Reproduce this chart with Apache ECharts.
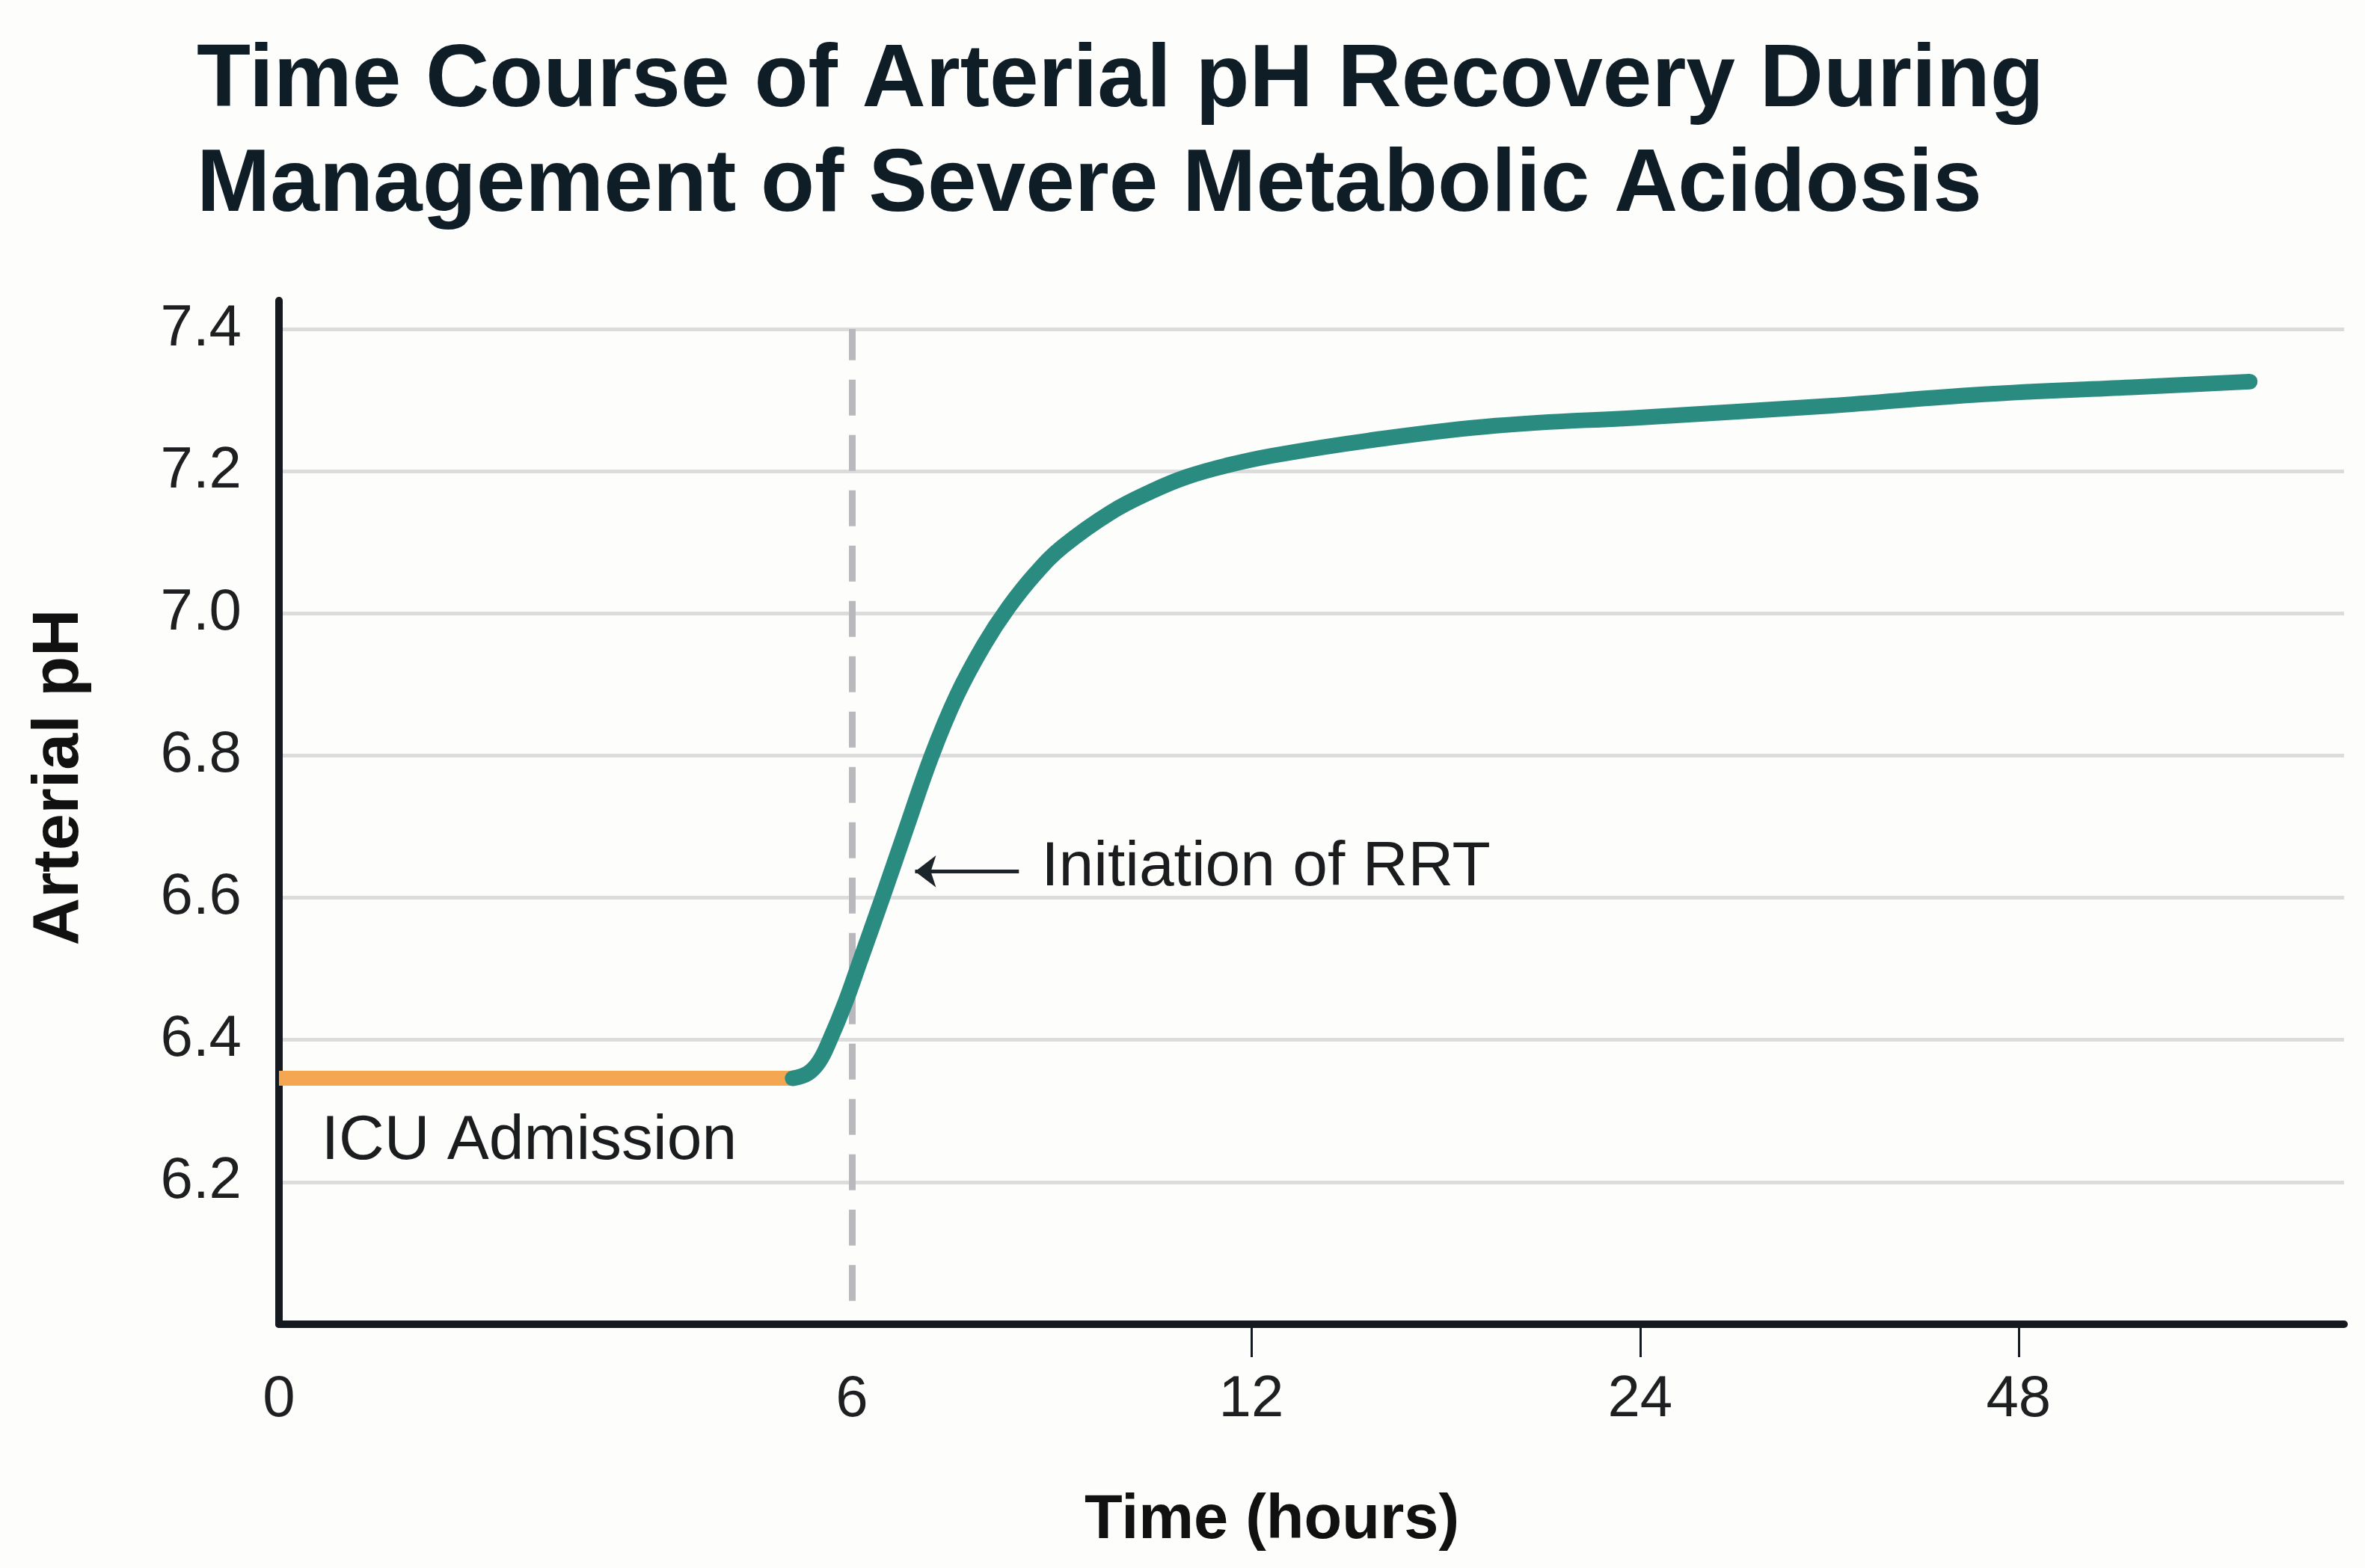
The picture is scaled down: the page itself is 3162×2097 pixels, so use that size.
<!DOCTYPE html>
<html>
<head>
<meta charset="utf-8">
<script src="https://cdn.jsdelivr.net/npm/echarts@6/dist/echarts.min.js"></script>
<style>
  html, body { margin: 0; padding: 0; background: #fdfdfc; }
  #chart { width: 3162px; height: 2097px; }
</style>
</head>
<body>
<div id="chart"></div>
<script>
// ---------------- data ----------------
const TITLE_TEXT = 'Time Course of Arterial pH Recovery During\nManagement of Severe Metabolic Acidosis';
const X_NAME = 'Time (hours)';
const Y_NAME = 'Arterial pH';

// time axis tick values (hours) and their labels
const TIME_TICK_HOURS = [0, 6, 12, 24, 48];
const TIME_TICK_LABELS = ['0', '6', '12', '24', '48'];
// hours that carry a small tick mark below the axis
const TIME_TICK_MARKED = [12, 24, 48];
// segmented (non-linear) time scale: axis unit at which each tick hour sits
const TIME_SCALE_UNITS = [0, 1.473, 2.5, 3.5, 4.473];

// pre-treatment (ICU admission) segment
const ADMISSION_HOURS = [0, 5.38];
const ADMISSION_PH = [6.346, 6.346];

// recovery after renal replacement therapy
const RRT_HOURS = [5.38, 5.54, 5.66, 5.77, 5.93, 6.12, 6.46, 6.82, 7.20, 7.58, 7.98, 8.35, 8.76,
                   9.17, 9.89, 10.51, 11.03, 11.63, 12.67, 15.60, 19.55, 24.33, 36.0, 45.63, 55.16, 62.66];
const RRT_PH = [6.346, 6.353, 6.370, 6.400, 6.452, 6.510, 6.600, 6.698, 6.800, 6.885, 6.955, 7.008, 7.056,
                7.094, 7.142, 7.172, 7.192, 7.208, 7.222, 7.243, 7.264, 7.276, 7.292, 7.308, 7.318, 7.326];

// RRT start marker (dashed line)
const RRT_START_HOUR = 6;
const RRT_LINE_PH = [6.033, 7.40];

// annotations
const ANNOT_TEXTS = ['ICU Admission', 'Initiation of RRT'];
const ANNOT_HOURS = [0.44, 8.84];
const ANNOT_PH = [6.257, 6.642];
// arrow pointing at curve
const ARROW_HOURS = [6.95, 8.51]; // tip, tail
const ARROW_PH = 6.637;

// ---------------- scale helper ----------------
function toAxis(h) {
  const T = TIME_TICK_HOURS, U = TIME_SCALE_UNITS;
  let i = 0;
  while (i < T.length - 2 && h > T[i + 1]) i++;
  return U[i] + (h - T[i]) * (U[i + 1] - U[i]) / (T[i + 1] - T[i]);
}
function labelFor(v) {
  for (let i = 0; i < TIME_SCALE_UNITS.length; i++) {
    if (Math.abs(TIME_SCALE_UNITS[i] - v) < 1e-6) return TIME_TICK_LABELS[i];
  }
  return '';
}

const FONT = '"Liberation Sans", Arial, Helvetica, sans-serif';
const AXIS_COLOR = '#141a1f';
const TEXT_COLOR = '#1d1f21';

const admissionData = ADMISSION_HOURS.map((h, i) => [toAxis(h), ADMISSION_PH[i]]);
const rrtData = RRT_HOURS.map((h, i) => [toAxis(h), RRT_PH[i]]);

const chart = echarts.init(document.getElementById('chart'), null, { renderer: 'canvas' });

const option = {
  backgroundColor: '#fdfdfc',
  animation: false,
  title: {
    text: TITLE_TEXT,
    left: 258,
    top: 34,
    textStyle: {
      fontFamily: FONT,
      fontSize: 118,
      fontWeight: 'bold',
      color: '#0f1d26',
      lineHeight: 140
    }
  },
  grid: {
    left: 373,
    right: 28,
    top: 402,
    bottom: 326,
    outerBoundsMode: 'none'
  },
  xAxis: {
    type: 'value',
    min: 0,
    max: 5.31,
    name: X_NAME,
    nameLocation: 'middle',
    nameGap: 222,
    nameTextStyle: {
      fontFamily: FONT,
      fontSize: 83,
      fontWeight: 'bold',
      color: '#111',
      padding: [0, 106, 0, 0]
    },
    axisLine: { show: true, onZero: false, lineStyle: { color: AXIS_COLOR, width: 10 } },
    axisTick: {
      show: true,
      length: 44,
      customValues: TIME_TICK_MARKED.map(toAxis),
      lineStyle: { color: AXIS_COLOR, width: 3 }
    },
    axisLabel: {
      show: true,
      customValues: TIME_SCALE_UNITS,
      formatter: labelFor,
      margin: 62,
      fontFamily: FONT,
      fontSize: 78,
      color: TEXT_COLOR
    },
    splitLine: { show: false }
  },
  yAxis: {
    type: 'value',
    min: 6.0,
    max: 7.44,
    interval: 0.2,
    name: Y_NAME,
    nameLocation: 'middle',
    nameGap: 249,
    nameTextStyle: {
      fontFamily: FONT,
      fontSize: 88,
      fontWeight: 'bold',
      color: '#111',
      padding: [0, 0, 0, 94]
    },
    axisLine: { show: true, lineStyle: { color: AXIS_COLOR, width: 10 } },
    axisTick: { show: false },
    axisLabel: {
      showMinLabel: false,
      showMaxLabel: false,
      margin: 50,
      fontFamily: FONT,
      fontSize: 78,
      color: TEXT_COLOR,
      formatter: v => (Math.abs(v - 7.44) < 1e-6 || Math.abs(v - 6) < 1e-6) ? '' : v.toFixed(1)
    },
    splitLine: {
      show: true,
      showMinLine: false,
      showMaxLine: false,
      lineStyle: { color: '#dcdcdc', width: 5 }
    }
  },
  series: [
    {
      name: 'ICU Admission',
      type: 'line',
      data: admissionData,
      showSymbol: false,
      symbol: 'none',
      z: 3,
      lineStyle: { color: '#f4a651', width: 20, cap: 'butt' },
      markLine: {
        silent: true,
        symbol: ['none', 'none'],
        z: 2,
        label: { show: false },
        lineStyle: { color: '#b9b9bd', width: 9, type: [48, 26] },
        data: [[
          { coord: [toAxis(RRT_START_HOUR), RRT_LINE_PH[0]] },
          { coord: [toAxis(RRT_START_HOUR), RRT_LINE_PH[1]] }
        ]]
      }
    },
    {
      name: 'After RRT',
      type: 'line',
      data: rrtData,
      smooth: 0.4,
      showSymbol: false,
      symbol: 'none',
      z: 4,
      lineStyle: { color: '#2a8c80', width: 21, cap: 'round', join: 'round' },
      markLine: {
        silent: true,
        symbol: ['arrow', 'none'],
        symbolSize: [32, 28],
        z: 5,
        label: { show: false },
        lineStyle: { color: '#1b252b', width: 5, type: 'solid' },
        data: [[
          { coord: [toAxis(ARROW_HOURS[0]), ARROW_PH] },
          { coord: [toAxis(ARROW_HOURS[1]), ARROW_PH] }
        ]]
      },
      markPoint: {
        silent: true,
        symbol: 'rect',
        symbolSize: 1,
        itemStyle: { color: 'rgba(0,0,0,0)' },
        label: {
          show: true,
          position: 'right',
          distance: 0,
          formatter: p => p.name,
          fontFamily: FONT,
          fontSize: 84,
          color: '#1a1c1e'
        },
        data: ANNOT_TEXTS.map((t, i) => ({ name: t, coord: [toAxis(ANNOT_HOURS[i]), ANNOT_PH[i]] }))
      }
    }
  ]
};

chart.setOption(option);
</script>
</body>
</html>
